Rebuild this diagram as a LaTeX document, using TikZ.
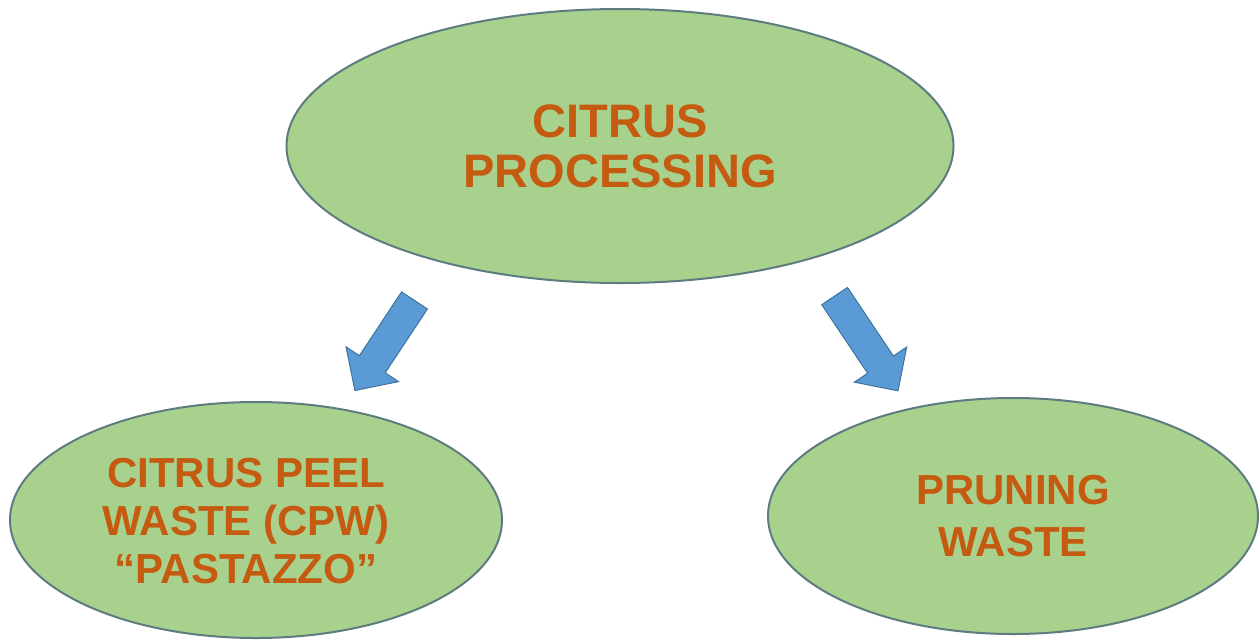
\documentclass[tikz,border=0pt]{standalone}
\usepackage{fontspec}
\setmainfont{Liberation Sans}
\usetikzlibrary{shapes.geometric,shapes.arrows}
\definecolor{bubblefill}{HTML}{A9D18E}
\definecolor{bubbleline}{HTML}{5E7B80}
\definecolor{txtorange}{HTML}{C55A11}
\definecolor{arrowfill}{HTML}{5B9BD5}
\definecolor{arrowline}{HTML}{41719C}
\tikzset{
  bubble/.style={ellipse, draw=bubbleline, fill=bubblefill, line width=2pt, inner sep=0pt},
  lbl/.style={align=center, text=txtorange, font=\bfseries},
  blockarrow/.style={single arrow, draw=arrowline, fill=arrowfill, line width=1pt,
    inner xsep=0pt, inner ysep=15pt, minimum width=62pt, single arrow head extend=16pt, single arrow tip angle=90}
}
\begin{document}
\begin{tikzpicture}[x=1pt,y=-1pt]
\useasboundingbox (0,0) rectangle (1259,641);
\node[bubble, minimum width=667pt, minimum height=274pt] (top) at (620,146) {};
\node[bubble, minimum width=492pt, minimum height=236pt] (cpw) at (256,520) {};
\node[bubble, minimum width=490pt, minimum height=236pt] (prune) at (1013,516) {};
\node[lbl, font=\fontsize{47}{50}\selectfont\bfseries] (toplbl) at (620,146) {CITRUS\\PROCESSING};
\node[lbl, font=\fontsize{42}{48}\selectfont\bfseries] (cpwlbl) at (246,521) {CITRUS PEEL\\WASTE (CPW)\\“PASTAZZO”};
\node[lbl, font=\fontsize{42}{52}\selectfont\bfseries] (prunelbl) at (1013,516) {PRUNING\\WASTE};
\node[blockarrow, minimum height=108pt, rotate=-123.5] (arrL) at (389,339) {};
\node[blockarrow, minimum height=114pt, rotate=-56.2] (arrR) at (862,337) {};
\end{tikzpicture}
\end{document}
